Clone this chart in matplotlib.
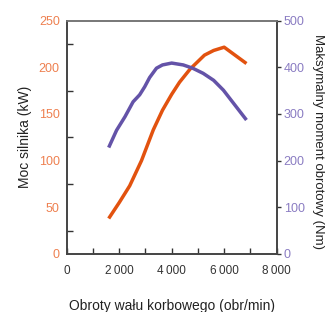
import matplotlib
matplotlib.use("Agg")
import matplotlib.pyplot as plt
from matplotlib.ticker import MultipleLocator, FuncFormatter

# engine speed (rpm) and readings taken off the chart
rpm_power = [1600, 2000, 2400, 2850, 3300, 3650, 4000, 4300, 4700, 5250, 5600, 6000, 6850]
power_kw = [38, 55, 73, 100, 133, 154, 171, 184, 198, 213, 218, 221.5, 204]

rpm_torque = [1600, 1900, 2220, 2530, 2780, 2970, 3160, 3420, 3650, 4000, 4440, 4800, 5200, 5600, 5970, 6850]
torque_nm = [228, 265, 294, 326, 341, 358, 378, 398, 405, 409, 405, 398, 387, 372, 351, 287]

x_ticks = [0, 2000, 4000, 6000, 8000]

orange = "#E2520F"
purple = "#6453A8"
orange_lbl = "#EE8050"
purple_lbl = "#8A7CC2"

plt.rcParams["font.family"] = ["Liberation Sans", "DejaVu Sans"]

fig = plt.figure(figsize=(3.27, 3.12), dpi=100)
ax = fig.add_axes([0.204, 0.186, 0.642, 0.748])
ax2 = ax.twinx()

ax.plot(rpm_power, power_kw, color=orange, lw=2.5, solid_capstyle="butt", zorder=3)
ax2.plot(rpm_torque, torque_nm, color=purple, lw=2.5, solid_capstyle="butt", zorder=3)

ax.set_xlim(0, 8000)
ax.set_ylim(0, 250)
ax2.set_ylim(0, 500)

ax.set_xticks(x_ticks)
ax.xaxis.set_minor_locator(MultipleLocator(1000))
ax.xaxis.set_major_formatter(FuncFormatter(lambda v, p: "0" if v == 0 else f"{int(v)//1000}\u2009000"))
ax.tick_params(axis="x", which="both", direction="in", length=4, width=1, color="#333333",
               labelsize=8.5, pad=8, labelcolor="#333333")

ax.yaxis.set_major_locator(MultipleLocator(50))
ax.yaxis.set_minor_locator(MultipleLocator(25))
ax.tick_params(axis="y", which="major", length=0, labelsize=9, pad=5, labelcolor=orange_lbl)
ax.tick_params(axis="y", which="minor", direction="in", length=4, width=1, color="#333333")

ax2.yaxis.set_major_locator(MultipleLocator(100))
ax2.tick_params(axis="y", which="major", direction="out", length=3, width=1, color="#333333",
                labelsize=9, pad=2, labelcolor=purple_lbl)

for a in (ax, ax2):
    for s in a.spines.values():
        s.set_color("#444444")
        s.set_linewidth(1.2)
ax.spines["top"].set_color("#777777")
ax2.spines["top"].set_color("#777777")

ax.set_ylabel("Moc silnika (kW)", fontsize=10, color="#222222")
ax.yaxis.set_label_coords(-0.165, 0.5)
ax2.set_ylabel("Maksymalny moment obrotowy (Nm)", fontsize=9.5, color="#222222",
               rotation=270, labelpad=12)
ax2.yaxis.set_label_coords(1.225, 0.48)
ax.set_xlabel("Obroty wału korbowego (obr/min)", fontsize=10, color="#222222", labelpad=16)

fig.savefig("out.png", dpi=100)
